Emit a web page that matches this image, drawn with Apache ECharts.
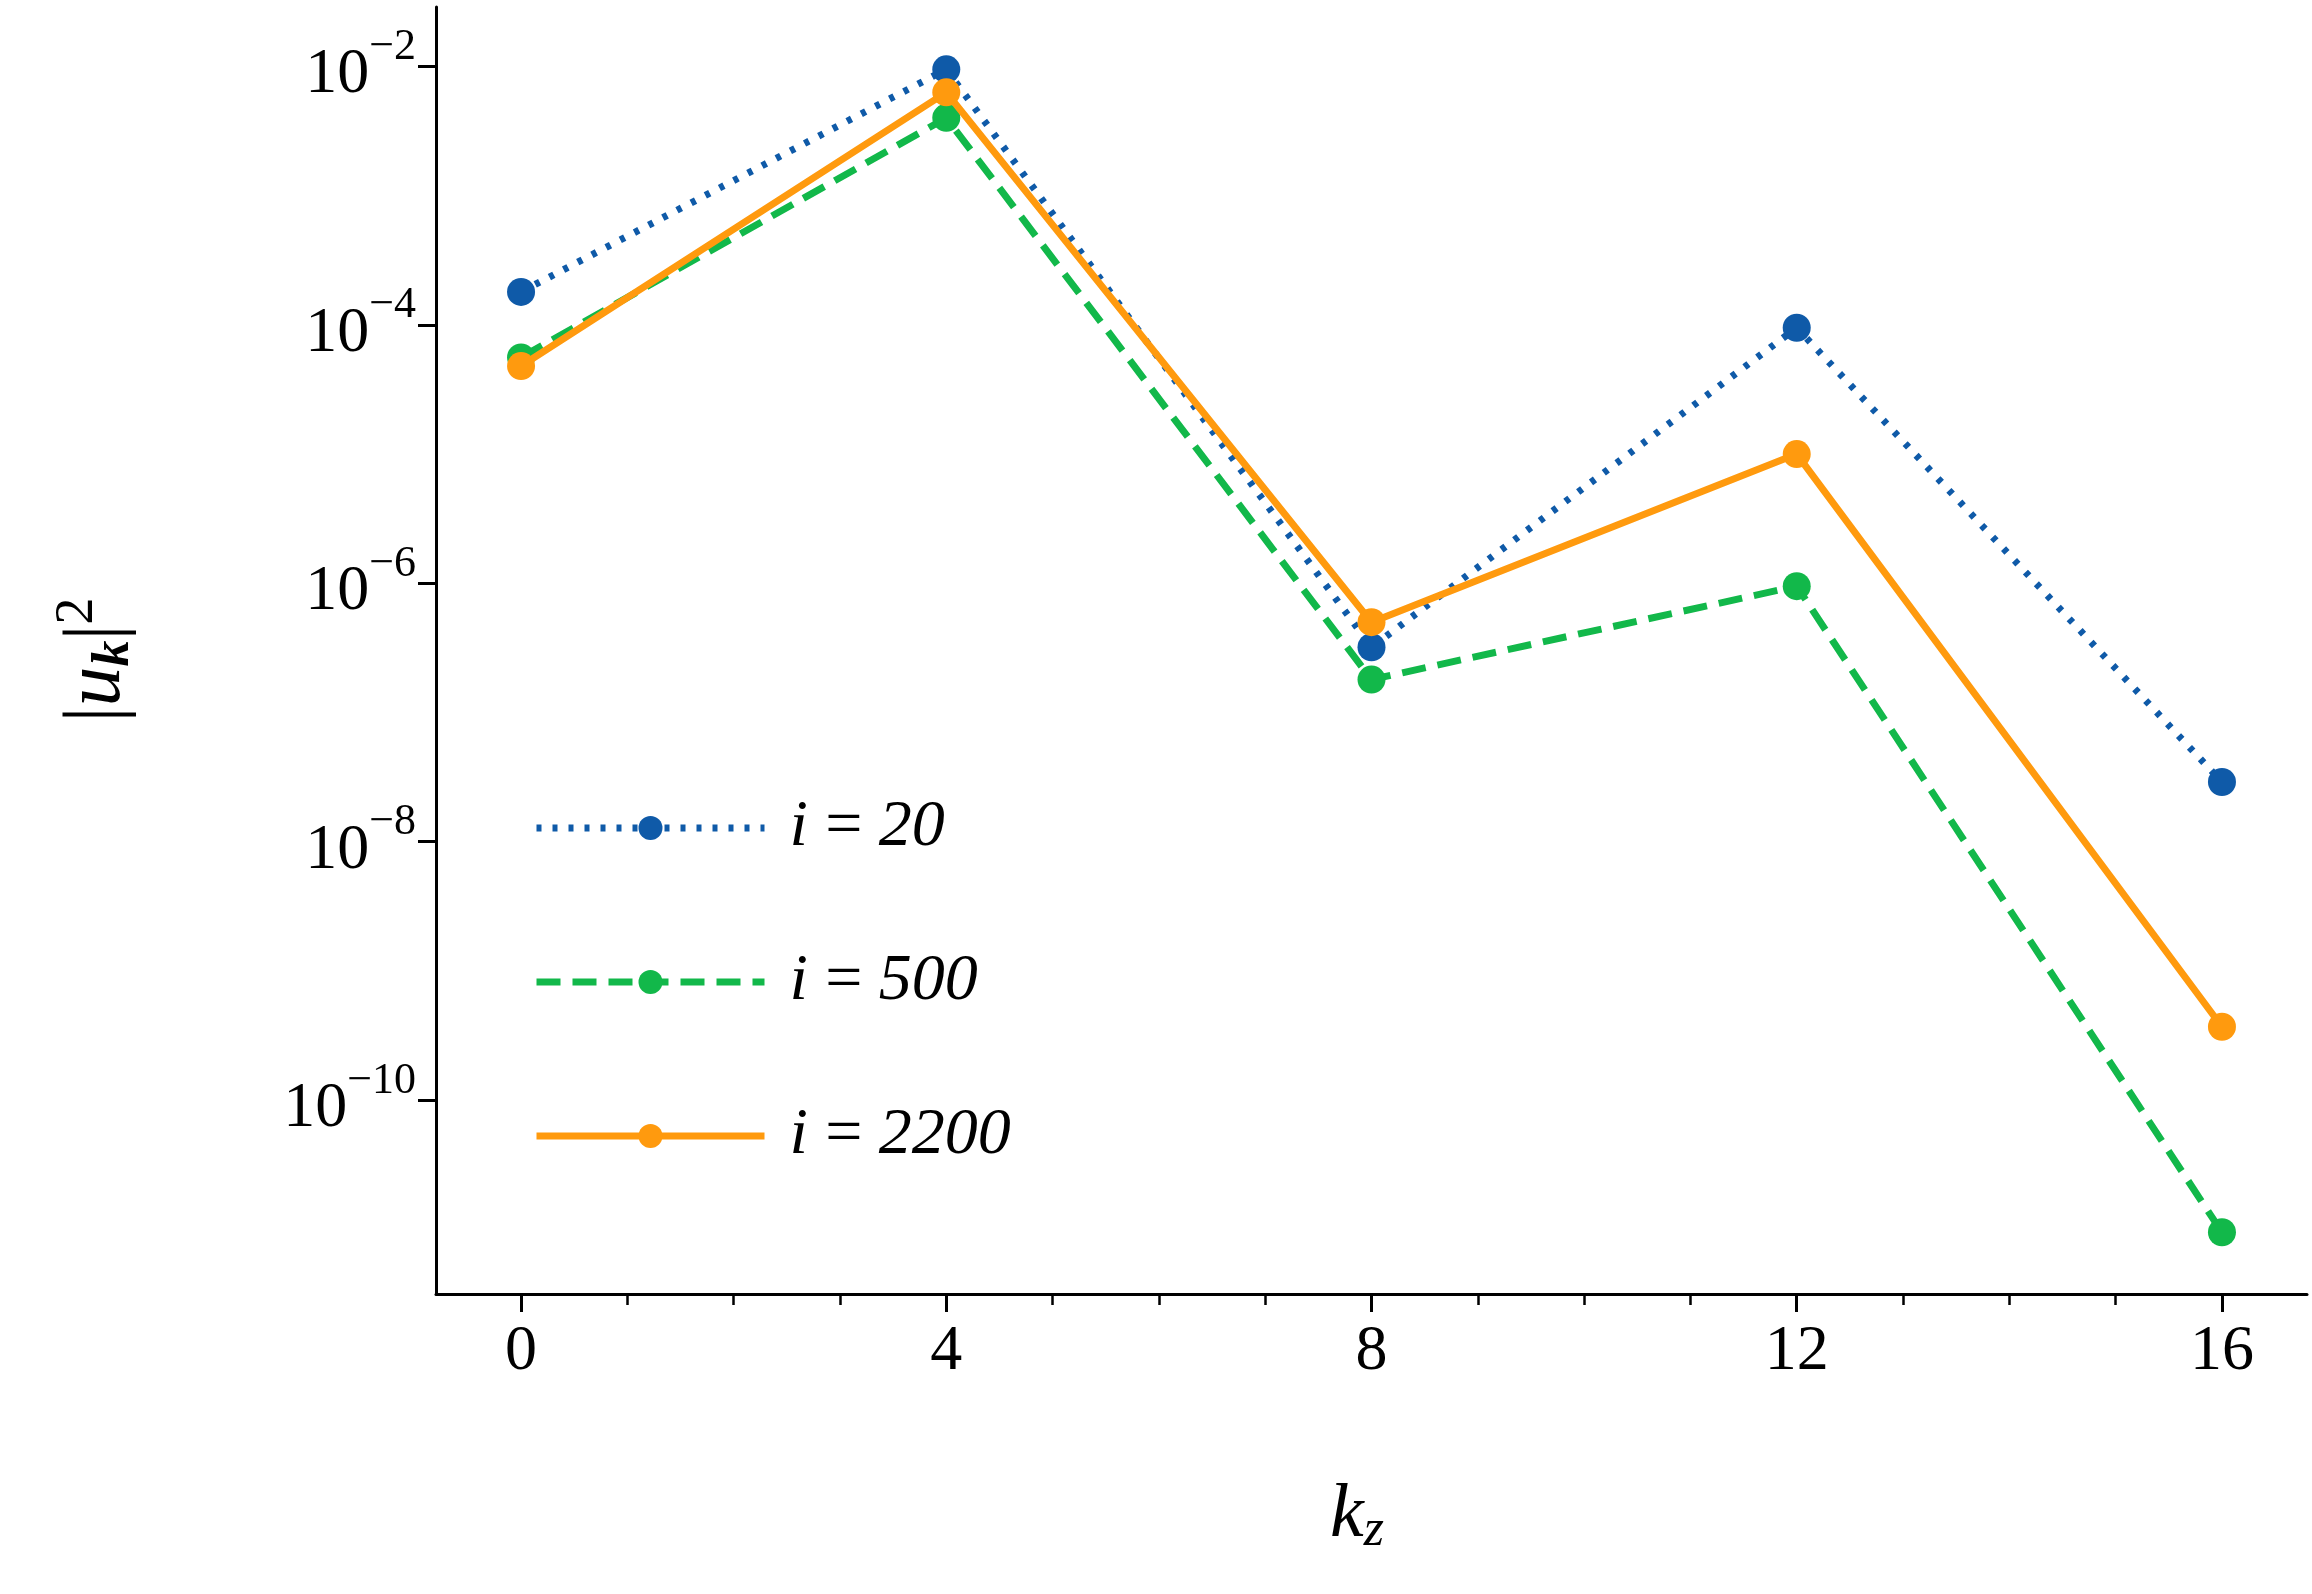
<!DOCTYPE html>
<html><head><meta charset="utf-8">
<script src="https://cdn.jsdelivr.net/npm/echarts@6/dist/echarts.min.js"></script>
<style>html,body{margin:0;padding:0;background:#fff}#c{width:2312px;height:1594px}</style>
</head><body><div id="c"></div>
<script>
const kz = [0, 4, 8, 12, 16];
const i20 = [1.8e-4, 9.5e-3, 3.2e-7, 9.5e-5, 2.9e-8];
const i500 = [5.6e-5, 4.0e-3, 1.8e-7, 9.5e-7, 9.5e-12];
const i2200 = [4.8e-5, 6.3e-3, 5.0e-7, 1.0e-5, 3.7e-10];
const yTicks = [1e-10, 1e-8, 1e-6, 1e-4, 1e-2];
const xMajor = [0, 4, 8, 12, 16];
const xMinor = [0,1,2,3,4,5,6,7,8,9,10,11,12,13,14,15,16];
const F = 'Liberation Serif';
const pairs = a => kz.map((k, j) => [k, a[j]]);
const chart = echarts.init(document.getElementById('c'));
const mk = (name, data, color, type) => ({
  name, type: 'line', data: pairs(data), symbol: 'circle', symbolSize: 28,
  itemStyle: { color }, lineStyle: { color, width: 7, type }, z: name === 'i = 2200' ? 5 : 3
});
chart.setOption({
  animation: false,
  textStyle: { fontFamily: F },
  grid: { left: 436, right: 5, top: 7, bottom: 300 },
  xAxis: [{
    type: 'value', min: -0.8, max: 16.8,
    axisLine: { onZero: false, lineStyle: { color: '#000', width: 3 } },
    splitLine: { show: false },
    axisTick: { customValues: xMajor, length: 18, lineStyle: { color: '#000', width: 3 } },
    axisLabel: { customValues: xMajor, fontFamily: F, fontSize: 64, color: '#000', margin: 26 }
  }, {
    type: 'value', min: -0.8, max: 16.8, position: 'bottom',
    axisLine: { show: false, onZero: false }, splitLine: { show: false },
    axisTick: { customValues: xMinor, length: 11, lineStyle: { color: '#000', width: 2.5 } },
    axisLabel: { show: false }
  }],
  yAxis: {
    type: 'log', logBase: 10, min: Math.pow(10, -11.5), max: Math.pow(10, -1.54),
    axisLine: { show: true, onZero: false, lineStyle: { color: '#000', width: 3 } },
    splitLine: { show: false },
    axisTick: { show: true, customValues: yTicks, length: 18, lineStyle: { color: '#000', width: 3 } },
    axisLabel: {
      customValues: yTicks, margin: 20,
      formatter: v => '{b|10}{s|−' + Math.abs(Math.round(Math.log10(v))) + '}',
      rich: {
        b: { fontFamily: F, fontSize: 64, color: '#000', padding: [18, 0, 0, 0] },
        s: { fontFamily: F, fontSize: 44, color: '#000', verticalAlign: 'top', padding: [0, 0, 22, 0] }
      }
    }
  },
  legend: {
    left: 528, top: 790, orient: 'vertical', itemWidth: 228, itemHeight: 30, itemGap: 88,
    lineStyle: { width: 7 },
    textStyle: { fontFamily: F, fontSize: 66, fontStyle: 'italic', color: '#000', padding: [0, 0, 0, 20] },
    formatter: n => n.replace('i = ', 'i\u2009=\u2009'),
    data: ['i = 20', 'i = 500', 'i = 2200']
  },
  series: [
    mk('i = 20', i20, '#0f5aa8', [5, 11]),
    mk('i = 500', i500, '#12b84a', [24, 12]),
    mk('i = 2200', i2200, '#ff9a0e', 'solid')
  ],
  graphic: [
    { type: 'text', left: 1330, top: 1478, style: { text: '{k|k}{z|z}', rich: {
      k: { fontFamily: F, fontSize: 76, fontStyle: 'italic', fill: '#000' },
      z: { fontFamily: F, fontSize: 52, fontStyle: 'italic', fill: '#000', padding: [30, 0, 0, 0] } } } },
    { type: 'text', x: 98, y: 660, rotation: Math.PI / 2, style: { text: '{a||}{u|u}{k|k}{a||}{s|2}', align: 'center', verticalAlign: 'middle', rich: {
      a: { fontFamily: F, fontSize: 80, fill: '#000' },
      u: { fontFamily: F, fontSize: 80, fontStyle: 'italic', fill: '#000' },
      k: { fontFamily: F, fontSize: 52, fontStyle: 'italic', fontWeight: 'bold', fill: '#000', padding: [34, 0, 0, 0] },
      s: { fontFamily: F, fontSize: 54, fill: '#000', padding: [0, 0, 40, 0] } } } }
  ]
});
</script></body></html>
